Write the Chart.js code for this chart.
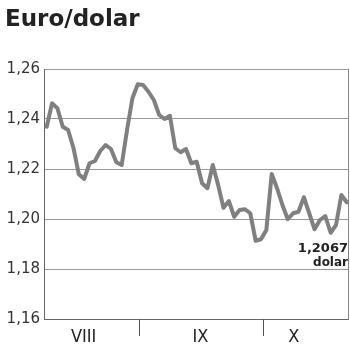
<!DOCTYPE html>
<html>
<head>
<meta charset="utf-8">
<script src="https://cdn.jsdelivr.net/npm/chart.js@4"></script>
<style>
  html, body { margin: 0; padding: 0; background: #fff; }
  #wrap { width: 350px; height: 351px; }
</style>
</head>
<body>
<div id="wrap"><canvas id="euroChart" width="350" height="351"></canvas></div>
<script>
// =========================
// Data
// =========================
const rates = [
  1.2369, 1.2463, 1.2443, 1.2369, 1.2356, 1.2284, 1.2179, 1.2160, 1.2223, 1.2232,
  1.2272, 1.2296, 1.2280, 1.2227, 1.2216, 1.2356, 1.2483, 1.2539, 1.2536, 1.2509,
  1.2476, 1.2416, 1.2400, 1.2413, 1.2283, 1.2267, 1.2280, 1.2223, 1.2229, 1.2143,
  1.2123, 1.2216, 1.2136, 1.2045, 1.2072, 1.2009, 1.2036, 1.2039, 1.2023, 1.1913,
  1.1919, 1.1956, 1.2180, 1.2123, 1.2056, 1.1999, 1.2023, 1.2029, 1.2087, 1.2023,
  1.1959, 1.1996, 1.2012, 1.1945, 1.1976, 1.2096, 1.2067,
];
const days = rates.map((_, i) => i);

const monthLabels = ["VIII", "IX", "X"];
const monthCenters = [6.9, 28.7, 46.1];
const monthBreaks = [17.3, 40.4];

const yTicks = [1.16, 1.18, 1.2, 1.22, 1.24, 1.26];
const titleText = "Euro/dolar";
const lastLabel = "1,2067";
const unitLabel = "dolar";

const fmt = (v) => v.toFixed(2).replace(".", ",");

// =========================
// Extra drawing: title, months, frame, last value
// =========================
const decorPlugin = {
  id: "decor",
  afterDraw(chart) {
    const { ctx, chartArea, scales } = chart;
    const x = scales.x;
    const y = scales.y;
    ctx.save();

    // title
    ctx.fillStyle = "#222";
    ctx.font = "bold 23px 'DejaVu Sans'";
    ctx.textBaseline = "alphabetic";
    ctx.textAlign = "left";
    ctx.fillText(titleText, 5, 26);

    // right frame line
    ctx.strokeStyle = "#888";
    ctx.lineWidth = 1;
    ctx.beginPath();
    ctx.moveTo(chartArea.right + 0.5, chartArea.top);
    ctx.lineTo(chartArea.right + 0.5, chartArea.bottom);
    ctx.stroke();

    // month separators
    ctx.strokeStyle = "#555";
    monthBreaks.forEach((d) => {
      const px = Math.round(x.getPixelForValue(d)) + 0.5;
      ctx.beginPath();
      ctx.moveTo(px, chartArea.bottom);
      ctx.lineTo(px, chartArea.bottom + 17);
      ctx.stroke();
    });

    // month labels
    ctx.fillStyle = "#222";
    ctx.font = "18px 'Liberation Sans Narrow', 'DejaVu Sans Condensed'";
    ctx.textAlign = "center";
    monthLabels.forEach((m, i) => {
      ctx.fillText(m, x.getPixelForValue(monthCenters[i]), chartArea.bottom + 23);
    });

    // last value note
    const lastY = y.getPixelForValue(rates[rates.length - 1]);
    ctx.textAlign = "right";
    ctx.font = "bold 13px 'DejaVu Sans'";
    ctx.fillText(lastLabel, chartArea.right, lastY + 50);
    ctx.font = "bold 12px 'DejaVu Sans'";
    ctx.fillText(unitLabel, chartArea.right, lastY + 64);

    ctx.restore();
  },
};

// =========================
// Chart
// =========================
new Chart(document.getElementById("euroChart"), {
  type: "line",
  data: {
    labels: days,
    datasets: [
      {
        data: rates.map((r, i) => ({ x: days[i], y: r })),
        borderColor: "#808080",
        borderWidth: 4,
        borderJoinStyle: "round",
        borderCapStyle: "round",
        pointRadius: 0,
        tension: 0,
        fill: false,
      },
    ],
  },
  options: {
    responsive: false,
    animation: false,
    layout: { padding: { top: 69, right: 2, left: 0, bottom: 0 } },
    plugins: {
      legend: { display: false },
      tooltip: { enabled: false },
      title: { display: false },
    },
    scales: {
      x: {
        type: "linear",
        min: -0.5,
        max: 56.24,
        ticks: { display: false },
        grid: { display: false },
        border: { display: true, color: "#666", width: 1 },
        afterFit(scale) {
          scale.height = 32;
        },
      },
      y: {
        min: 1.16,
        max: 1.26,
        afterBuildTicks(scale) {
          scale.ticks = yTicks.map((v) => ({ value: v }));
        },
        ticks: {
          padding: 4,
          color: "#333",
          font: { family: "'DejaVu Sans'", size: 15 },
          callback: (v) => fmt(v),
        },
        grid: { color: "#999", lineWidth: 1, drawTicks: false },
        border: { display: true, color: "#666", width: 1 },
        afterFit(scale) {
          scale.width = 44;
        },
      },
    },
  },
  plugins: [decorPlugin],
});
</script>
</body>
</html>
